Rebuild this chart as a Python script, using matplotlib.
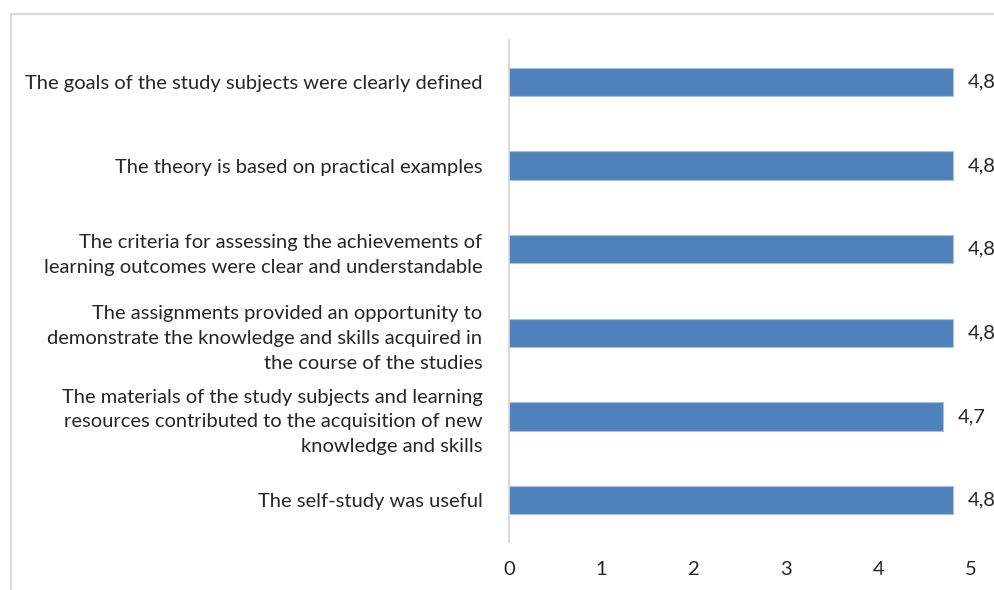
import matplotlib.pyplot as plt
from matplotlib.lines import Line2D

plt.rcParams['font.family'] = ['Lato', 'DejaVu Sans']

labels = [
    "The goals of the study subjects were clearly defined",
    "The theory is based on practical examples",
    "The criteria for assessing the achievements of\nlearning outcomes were clear and understandable",
    "The assignments provided an opportunity to\ndemonstrate the knowledge and skills acquired in\nthe course of the studies",
    "The materials of the study subjects and learning\nresources contributed to the acquisition of new\nknowledge and skills",
    "The self-study was useful",
]
values = [4.8, 4.8, 4.8, 4.8, 4.7, 4.8]
value_text = ["4,8", "4,8", "4,8", "4,8", "4,7", "4,8"]
xticks = [0, 1, 2, 3, 4, 5]

txt = "#262626"
fs = 14.5
fig = plt.figure(figsize=(9.95, 5.9), dpi=100)
ax = fig.add_axes([509/995, 48/590, 462/995, 502/590])

ypos = list(range(len(labels)))
ax.barh(ypos, values, height=0.34, color="#4f81bd", edgecolor="#a7c0de", linewidth=0.8)
for y, v, t in zip(ypos, values, value_text):
    ax.text(v + 0.16, y, t, va="center", ha="left", fontsize=fs, color=txt)

ax.set_xlim(0, 5)
ax.set_ylim(len(labels) - 0.5, -0.5)
ax.set_yticks(ypos)
ax.set_yticklabels(labels, fontsize=fs, color=txt, linespacing=1.57)
ax.set_xticks(xticks)
ax.set_xticklabels([str(x) for x in xticks], fontsize=fs, color=txt)
ax.tick_params(axis="both", length=0)
ax.tick_params(axis="y", pad=19)
ax.tick_params(axis="x", pad=14)
for s in ["top", "right", "bottom"]:
    ax.spines[s].set_visible(False)
ax.spines["left"].set_color("#d4d4d4")
ax.spines["left"].set_linewidth(1.2)

# outer chart frame
fig.add_artist(Line2D([11/995, 1], [1 - 14/590] * 2, color="#d9d9d9", lw=1.5))
fig.add_artist(Line2D([11/995] * 2, [0, 1 - 14/590], color="#d9d9d9", lw=1.5))

fig.savefig("out.png", dpi=100)
